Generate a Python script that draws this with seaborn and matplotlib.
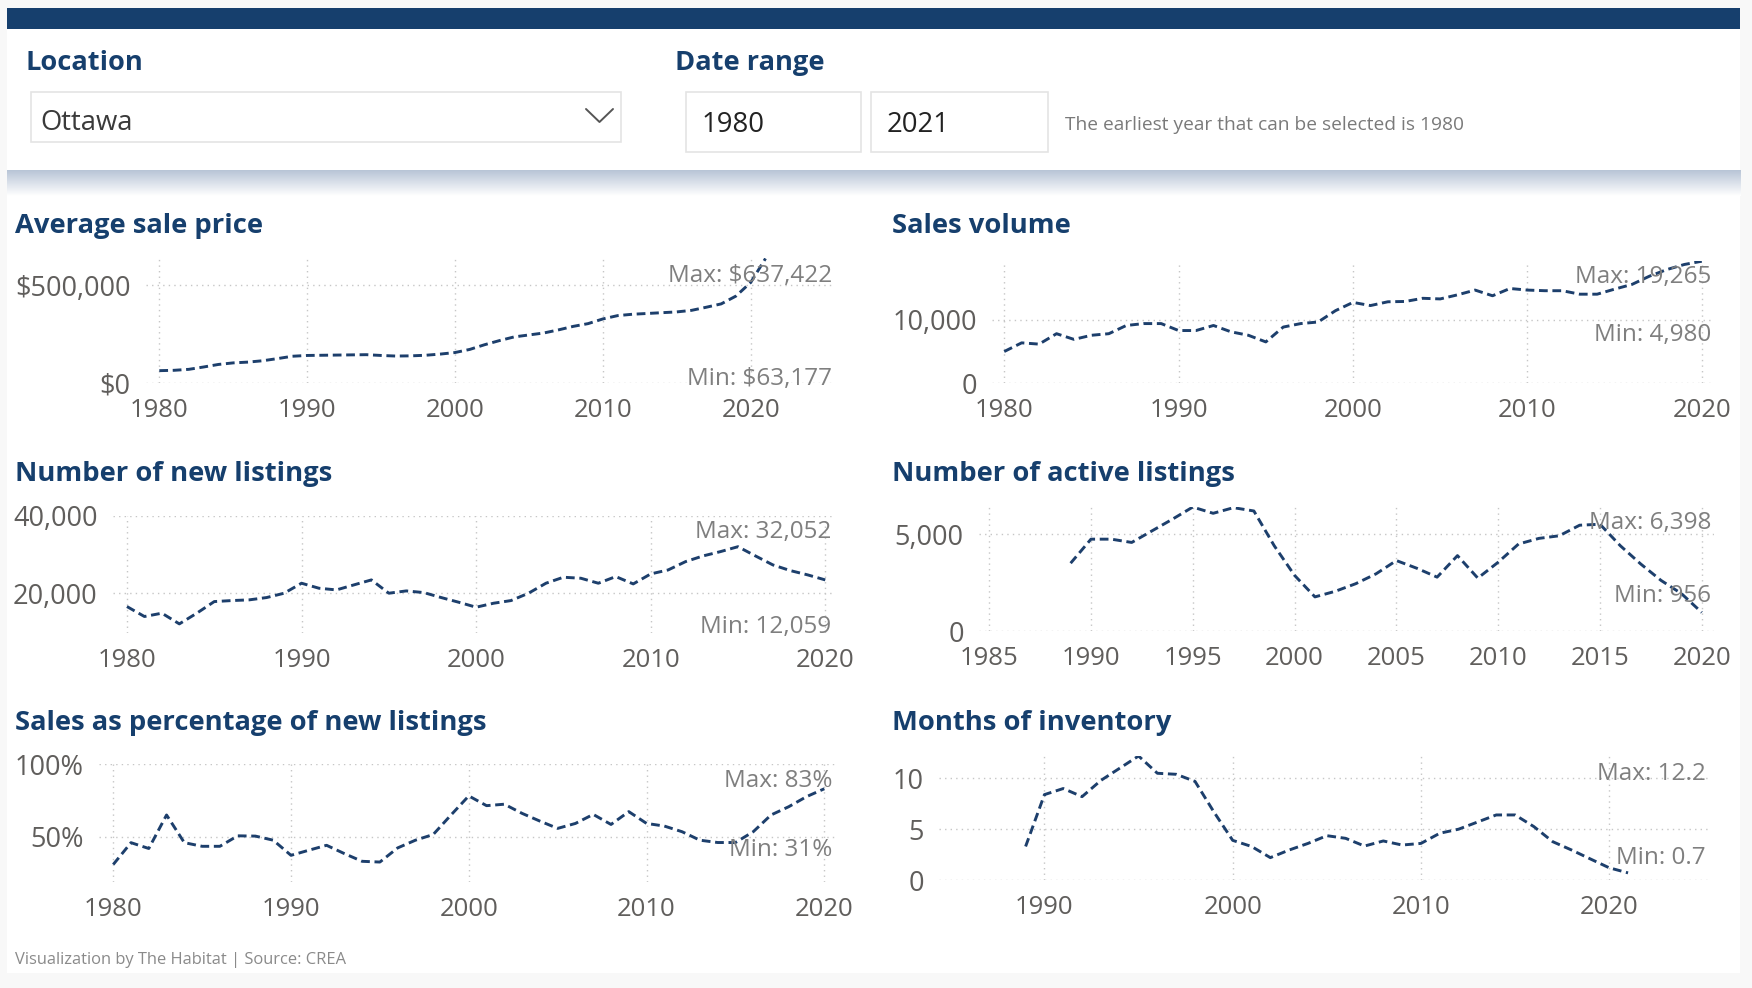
import numpy as np
import matplotlib
matplotlib.use('Agg')
import matplotlib.pyplot as plt
from matplotlib.patches import Rectangle
from matplotlib.ticker import FuncFormatter
import seaborn as sns

# Данные (Ottawa, CREA)
price_years = list(range(1980, 2022))
price_values = [63177, 65000, 70000, 82000, 95000, 103000, 107000, 114000, 125000, 137000,
                141000, 142000, 143000, 144000, 145000, 141000, 138000, 139000, 142000, 148000,
                156000, 172000, 196000, 217000, 236000, 246000, 256000, 272000, 290000, 304000,
                328000, 345000, 352000, 356000, 360000, 364000, 372000, 388000, 405000, 445000,
                515000, 637422]

sales_years = list(range(1980, 2021))
sales_values = [4980, 6350, 6150, 7800, 6900, 7550, 7800, 9100, 9400, 9400,
                8300, 8300, 9100, 8100, 7550, 6500, 8850, 9400, 9650, 11450,
                12750, 12250, 12850, 12900, 13400, 13300, 13950, 14700, 13800, 14950,
                14700, 14600, 14600, 14050, 14050, 14850, 15600, 16900, 17950, 18750,
                19265]

new_years = list(range(1980, 2021))
new_values = [16550, 13970, 14830, 12059, 14830, 17840, 18100, 18280, 18880, 20000,
              22590, 21290, 20860, 22160, 23450, 20000, 20600, 20170, 18880, 17670,
              16380, 17410, 18100, 20000, 22590, 24140, 23880, 22590, 24310, 22410,
              25000, 26030, 28190, 29660, 30780, 32052, 29660, 27330, 25860, 24740,
              23450]

active_years = list(range(1989, 2021))
active_values = [3500, 4740, 4740, 4570, 5170, 5770, 6398, 6075, 6365, 6195,
                 4400, 2870, 1760, 2050, 2440, 2950, 3635, 3240, 2780, 3890,
                 2730, 3550, 4490, 4780, 4915, 5460, 5510, 4400, 3460, 2610,
                 1930, 956]

pct_years = list(range(1980, 2021))
pct_values = [31, 46, 42, 65, 46, 43.5, 43.5, 50.7, 50.5, 47.7,
              37.3, 40.8, 44.2, 38.5, 33.2, 32.7, 42.4, 47.7, 51.6, 65,
              78.1, 71.4, 72.4, 66.1, 60.8, 55.8, 59.2, 65.4, 58.5, 67.3,
              59.2, 57.4, 53.5, 47.7, 46.1, 46.1, 53.5, 65, 70.7, 77.6,
              83]

inv_years = list(range(1989, 2022))
inv_values = [3.3, 8.4, 9.0, 8.2, 9.8, 11.0, 12.2, 10.5, 10.4, 9.7,
              6.7, 3.9, 3.3, 2.2, 2.95, 3.6, 4.36, 4.1, 3.34, 3.84,
              3.44, 3.6, 4.6, 5.0, 5.7, 6.4, 6.4, 5.25, 3.77, 2.95,
              2.07, 1.2, 0.7]

W, H = 1752, 988
NAVY = '#163f6d'
LINE = '#1d3f6c'
TICK = '#605e5c'
NOTE = '#7f7f7f'

sns.set_theme(style='white')
plt.rcParams['font.family'] = ['Open Sans', 'DejaVu Sans']

fig = plt.figure(figsize=(W / 100, H / 100), dpi=100)
fig.patch.set_facecolor('#f8f8f8')


def px_rect(x0, y0, x1, y1, **kw):
    fig.add_artist(Rectangle((x0 / W, 1 - y1 / H), (x1 - x0) / W, (y1 - y0) / H,
                             transform=fig.transFigure, **kw))


def ftext(x, y, s, **kw):
    fig.text(x / W, 1 - y / H, s, **kw)


# Фон страницы и шапка
px_rect(7, 8, 1740, 973, facecolor='white', edgecolor='none', zorder=0)
px_rect(7, 8, 1740, 29, facecolor=NAVY, edgecolor='none', zorder=1)

# Тень под шапкой
sh = fig.add_axes([7 / W, 1 - 196 / H, (1740 - 7) / W, 26 / H], zorder=1)
grad = np.linspace(0, 1, 64).reshape(-1, 1)
top_col = np.array([0.72, 0.77, 0.84])
img = top_col[None, None, :] * (1 - grad[..., None]) + np.ones(3)[None, None, :] * grad[..., None]
img = np.repeat(img, 4, axis=1)
sh.imshow(img, aspect='auto', extent=[0, 1, 0, 1], origin='upper')
sh.axis('off')

ftext(25, 63, 'Location', fontsize=19.6, fontweight='bold', color=NAVY, va='center')
ftext(675, 63, 'Date range', fontsize=19.6, fontweight='bold', color=NAVY, va='center')

px_rect(31, 92, 621, 142, facecolor='white', edgecolor='#e4e4e4', lw=1.2, zorder=2)
ftext(40, 123, 'Ottawa', fontsize=19.8, color='#3a3a3a', va='center')
fig.add_artist(plt.Line2D([586 / W, 599.5 / W, 613 / W], [1 - 109 / H, 1 - 122 / H, 1 - 109 / H],
                          transform=fig.transFigure, color='#555555', lw=1.4, zorder=3))

px_rect(686, 92, 861, 152, facecolor='white', edgecolor='#e4e4e4', lw=1.2, zorder=2)
px_rect(871, 92, 1048, 152, facecolor='white', edgecolor='#e4e4e4', lw=1.2, zorder=2)
ftext(702, 125, '1980', fontsize=19.8, color='#222222', va='center')
ftext(887, 125, '2021', fontsize=19.8, color='#222222', va='center')
ftext(1065, 125, 'The earliest year that can be selected is 1980', fontsize=13.8,
      color='#7a7a7a', va='center')


def panel(title, title_xy, box, xlim, ylim, years, values, xticks, yticks, fmt,
          max_txt, max_y, min_txt, min_y):
    left, top, right, bottom = box
    ax = fig.add_axes([left / W, 1 - bottom / H, (right - left) / W, (bottom - top) / H])
    ax.set_facecolor('none')
    sns.lineplot(x=years, y=values, ax=ax, color=LINE, lw=2.1,
                 linestyle=(0, (3, 1.6)), zorder=3)
    ax.set_xlim(*xlim)
    ax.set_ylim(*ylim)
    ax.set_xticks(xticks)
    ax.set_yticks(yticks)
    ax.yaxis.set_major_formatter(FuncFormatter(fmt))
    ax.grid(True, color='#c6c6c6', lw=1.0, linestyle=(0, (1, 3)))
    for s in ax.spines.values():
        s.set_visible(False)
    ax.tick_params(length=0, labelsize=18.5, labelcolor=TICK)
    ax.tick_params(axis='x', pad=11)
    ax.tick_params(axis='y', pad=11, labelsize=19.5)
    ax.set_xlabel('')
    ax.set_ylabel('')
    ftext(title_xy[0], title_xy[1] + 3, title, fontsize=19.7, fontweight='bold', color=NAVY,
          va='center')
    ftext(right - 3, max_y + 3, max_txt, fontsize=17.5, color=NOTE, ha='right', va='center', zorder=5)
    ftext(right - 3, min_y + 3, min_txt, fontsize=17.5, color=NOTE, ha='right', va='center', zorder=5)
    return ax


decades = [1980, 1990, 2000, 2010, 2020]

panel('Average sale price', (15, 223), (146, 258, 835, 383),
      (1979.1, 2025.7), (0, 640000), price_years, price_values, decades, [0, 500000],
      lambda v, p: f'${v:,.0f}', 'Max: $637,422', 273, 'Min: $63,177', 376)

panel('Sales volume', (892, 223), (992, 261, 1714, 383),
      (1979.3, 2020.7), (0, 19300), sales_years, sales_values, decades, [0, 10000],
      lambda v, p: f'{v:,.0f}', 'Max: 19,265', 274, 'Min: 4,980', 332)

panel('Number of new listings', (15, 471), (113, 516, 834, 633),
      (1979.2, 2020.5), (9700, 40000), new_years, new_values, decades, [20000, 40000],
      lambda v, p: f'{v:,.0f}', 'Max: 32,052', 529, 'Min: 12,059', 624)

panel('Number of active listings', (892, 471), (979, 507, 1714, 631),
      (1984.5, 2020.6), (0, 6400), active_years, active_values,
      [1985, 1990, 1995, 2000, 2005, 2010, 2015, 2020], [0, 5000],
      lambda v, p: f'{v:,.0f}', 'Max: 6,398', 520, 'Min: 956', 593)

panel('Sales as percentage of new listings', (15, 720), (99, 764, 835, 882),
      (1979.2, 2020.6), (19, 100), pct_years, pct_values, decades, [50, 100],
      lambda v, p: f'{v:.0f}%', 'Max: 83%', 778, 'Min: 31%', 847)

panel('Months of inventory', (892, 720), (939, 756, 1709, 880),
      (1984.4, 2025.3), (0, 12.2), inv_years, inv_values, [1990, 2000, 2010, 2020], [0, 5, 10],
      lambda v, p: f'{v:.0f}', 'Max: 12.2', 771, 'Min: 0.7', 855)

ftext(15, 960, 'Visualization by The Habitat | Source: CREA', fontsize=11.9, color='#8a8a8a',
      va='center')

fig.savefig('out.png', dpi=100, facecolor=fig.get_facecolor())
